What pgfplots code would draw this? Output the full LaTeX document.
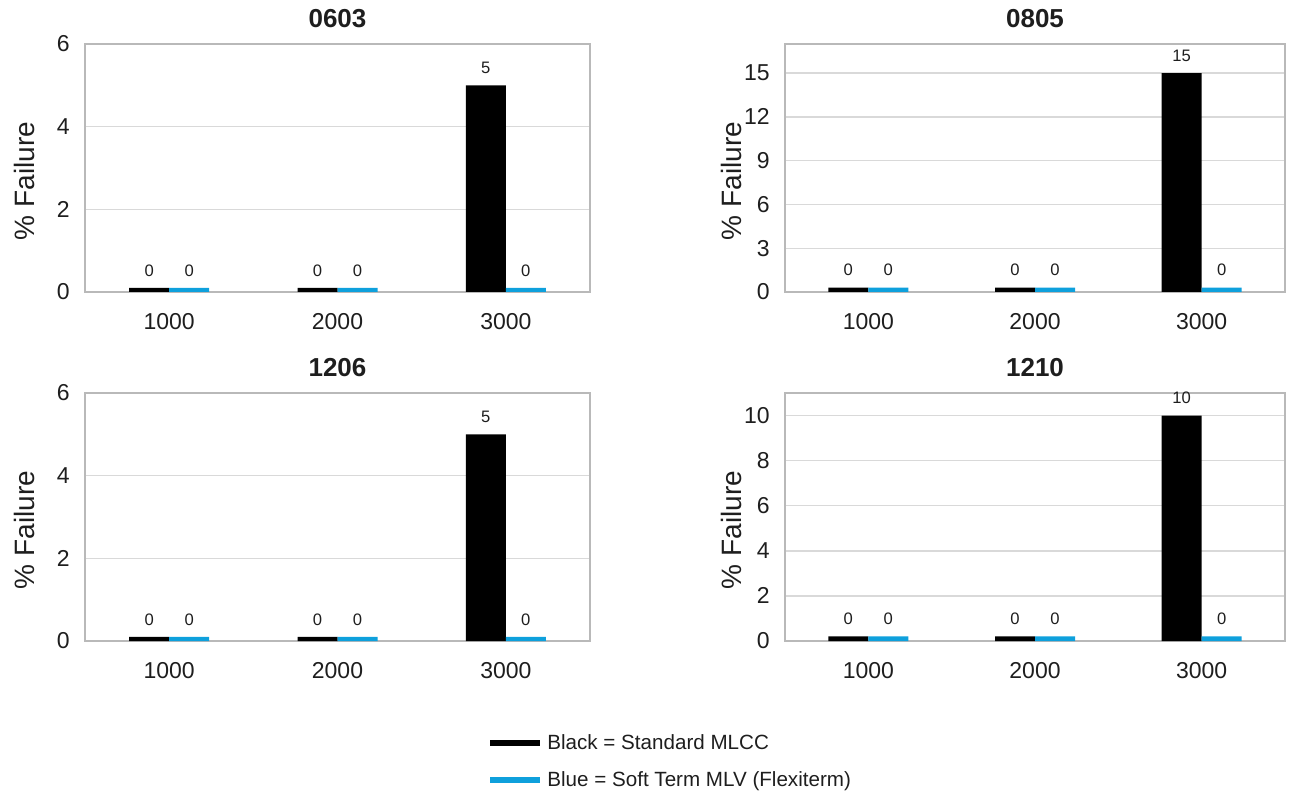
\documentclass[border=0pt]{standalone}
\usepackage{fontspec}
\setmainfont{Liberation Sans}
\usepackage{pgfplots}
\pgfplotsset{compat=1.18}
\definecolor{flexblue}{RGB}{14,160,220}
\definecolor{axgray}{RGB}{185,185,185}
\definecolor{gridgray}{RGB}{217,217,217}
\definecolor{txt}{RGB}{30,30,30}
\pgfplotsset{panel/.style={
  scale only axis, anchor=south west,
  height=124pt,
  ybar=0pt, bar width=20pt,
  ymin=0, xmin=-0.5, xmax=2.5,
  xtick={0,1,2}, xticklabels={1000,2000,3000},
  major tick length=0pt,
  axis line style={axgray, line width=0.7pt},
  ymajorgrids, grid style={gridgray, line width=0.7pt},
  /pgf/number format/assume math mode=true,
  tick label style={font=\fontsize{11.5}{13}\selectfont, text=txt},
  xticklabel style={anchor=center, yshift=-15pt},
  yticklabel style={anchor=east, inner sep=0pt, xshift=-7.5pt},
  nodes near coords,
  nodes near coords style={font=\fontsize{8.3}{9}\selectfont, text=txt, yshift=2.3pt,
     /pgf/number format/fixed, /pgf/number format/precision=0},
  title style={font=\fontsize{13}{15}\selectfont\bfseries, text=txt, at={(axis description cs:0.5,1)}, anchor=center, yshift=6.5pt},
  ylabel={\% Failure},
  ylabel style={font=\fontsize{14}{16}\selectfont, text=txt, anchor=center},
}}
\begin{document}
\begin{tikzpicture}
\useasboundingbox (0,0) rectangle (644.5pt,396.5pt);
% 0603
\begin{axis}[panel, at={(42.5pt,250.5pt)}, width=252.5pt, ymax=6, ytick={0,2,4,6}, title={0603},
  ylabel style={at={(axis description cs:-0.119,0.448)}}]
\addplot[fill=black, draw=none] coordinates {(0,0.1) (1,0.1) (2,5)};
\addplot[fill=flexblue, draw=none] coordinates {(0,0.1) (1,0.1) (2,0.1)};
\end{axis}
% 0805
\begin{axis}[panel, at={(392.5pt,250.5pt)}, width=250pt, ymax=17, ytick={0,3,6,9,12,15}, title={0805},
  ylabel style={at={(axis description cs:-0.108,0.448)}}]
\addplot[fill=black, draw=none] coordinates {(0,0.3) (1,0.3) (2,15)};
\addplot[fill=flexblue, draw=none] coordinates {(0,0.3) (1,0.3) (2,0.3)};
\end{axis}
% 1206
\begin{axis}[panel, at={(42.5pt,76pt)}, width=252.5pt, ymax=6, ytick={0,2,4,6}, title={1206},
  ylabel style={at={(axis description cs:-0.119,0.448)}}]
\addplot[fill=black, draw=none] coordinates {(0,0.1) (1,0.1) (2,5)};
\addplot[fill=flexblue, draw=none] coordinates {(0,0.1) (1,0.1) (2,0.1)};
\end{axis}
% 1210
\begin{axis}[panel, at={(392.5pt,76pt)}, width=250pt, ymax=11, ytick={0,2,4,6,8,10}, title={1210},
  ylabel style={at={(axis description cs:-0.108,0.448)}}]
\addplot[fill=black, draw=none] coordinates {(0,0.2) (1,0.2) (2,10)};
\addplot[fill=flexblue, draw=none] coordinates {(0,0.2) (1,0.2) (2,0.2)};
\end{axis}
% legend
\begin{axis}[scale only axis, anchor=south west, at={(0pt,0pt)}, width=644.5pt, height=396.5pt,
  hide axis, xmin=0, xmax=1, ymin=0, ymax=1,
  legend style={at={(axis description cs:0.3778,0.0795)}, anchor=north west, draw=none, fill=none,
    font=\fontsize{10.3}{12}\selectfont, text=txt, row sep=5.5pt, inner sep=0pt,
    /tikz/every even column/.append style={column sep=0pt}},
  legend cell align=left,
  legend image code/.code={\draw[#1, line width=3pt] (0pt,0pt) -- (25pt,0pt);}]
\addlegendimage{black}
\addlegendentry{Black = Standard MLCC}
\addlegendimage{flexblue}
\addlegendentry{Blue = Soft Term MLV (Flexiterm)}
\end{axis}
\end{tikzpicture}
\end{document}
